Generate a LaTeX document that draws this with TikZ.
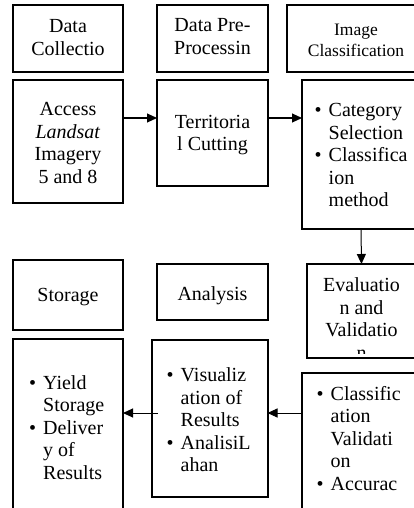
\documentclass[tikz,border=0pt]{standalone}
\usepackage{fontspec}
\setmainfont{Liberation Serif}
\usetikzlibrary{arrows.meta}
\newcommand{\stack}[1]{\begin{tabular}[t]{@{}c@{}}#1\end{tabular}}
\newcommand{\blist}[1]{\begin{tabular}[t]{@{}p{14pt}@{}l@{}}#1\end{tabular}}

\begin{document}
\begin{tikzpicture}[x=1pt, y=-1pt, font=\fontsize{20}{22.5}\selectfont,
	box/.style={draw, line width=2pt, anchor=north west, inner sep=0pt, outer sep=0pt},
	txt/.style={anchor=base, inner sep=0pt},
	lst/.style={anchor=base west, inner sep=0pt},
	arr/.style={-{Triangle[length=10pt,width=9pt]}, line width=1pt}]
	\clip (0,0) rectangle (414,508);

	\node [box, minimum width=110pt, minimum height=67pt] (dcoll) at (13,5) {};
	\node [box, minimum width=111pt, minimum height=67pt] (dpre) at (157,5) {};
	\node [box, minimum width=138pt, minimum height=67pt] (imgcls) at (287,5) {};

	\node [txt] (dcolltext) at (68,33) {\stack{Data\\Collectio}};
	\node [txt] (dpretext) at (212.5,32) {\stack{Data Pre-\\Processin}};
	\node [txt, font=\fontsize{17.5}{21}\selectfont] (imgclstext) at (356,36) {\stack{Image\\Classification}};

	\node [box, minimum width=110pt, minimum height=123pt] (access) at (13,80) {};
	\node [box, minimum width=111pt, minimum height=106pt] (cutting) at (157,80) {};
	\node [box, minimum width=118pt, minimum height=149pt] (selection) at (302,80) {};

	\node [txt] (accesstext) at (68,115.7) {\stack{Access\\\textit{Landsat}\\Imagery\\5 and 8}};
	\node [txt] (cuttingtext) at (212.5,128.3) {\stack{Territoria\\l Cutting}};
	\node [lst] (selectiontext) at (314.5,116.7) {\blist{\textbullet & Category\\ & Selection\\ \textbullet & Classifica\\ & ion\\ & method}};

	\node [box, minimum width=110pt, minimum height=70pt] (storage) at (13,260) {};
	\node [box, minimum width=111pt, minimum height=56pt] (analysis) at (157,264) {};
	\node [box, minimum width=109pt, minimum height=94pt] (evalbox) at (307,264) {};

	\node [txt] (storagetext) at (68,301.7) {Storage};
	\node [txt] (analysistext) at (212.5,300) {Analysis};
	\begin{scope}
		\clip (evalbox.north west) rectangle ([yshift=5pt]evalbox.south east);
		\node [txt] (evaltext) at (361.5,291.5) {\stack{Evaluatio\\n and\\Validatio\\n}};
	\end{scope}

	\node [box, minimum width=110pt, minimum height=200pt] (yieldbox) at (13,339) {};
	\node [box, minimum width=116pt, minimum height=157pt] (visual) at (151.5,339.5) {};
	\node [box, minimum width=118pt, minimum height=200pt] (validbox) at (302,373) {};

	\node [lst] (yieldtext) at (29,389) {\blist{\textbullet & Yield\\ & Storage\\ \textbullet & Deliver\\ & y of\\ & Results}};
	\node [lst] (visualtext) at (166.5,381.7) {\blist{\textbullet & Visualiz\\ & ation of\\ & Results\\ \textbullet & AnalisiL\\ & ahan}};
	\node [lst] (validtext) at (316.5,400) {\blist{\textbullet & Classific\\ & ation\\ & Validati\\ & on\\ \textbullet & Accurac}};

	\coordinate (toprow) at (0,118);
	\coordinate (botrow) at (0,413);
	\begin{scope}[arr]
		\draw (access.east |- toprow) -- (cutting.west |- toprow);
		\draw (cutting.east |- toprow) -- (selection.west |- toprow);
		\draw (selection.south) -- (evalbox.north);
		\draw (validbox.west |- botrow) -- (visual.east |- botrow);
		\draw [shorten <=-6pt] (visual.west |- botrow) -- (yieldbox.east |- botrow);
	\end{scope}
\end{tikzpicture}
\end{document}
